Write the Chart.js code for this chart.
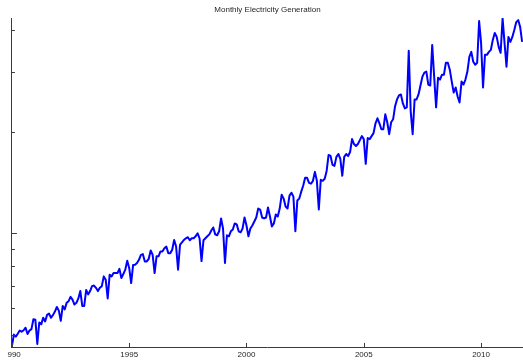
<!DOCTYPE html>
<html>
<head>
<meta charset="utf-8">
<script src="https://cdn.jsdelivr.net/npm/chart.js@4.4.1/dist/chart.umd.min.js"></script>
<style>
  html, body { margin: 0; padding: 0; background: #ffffff; }
  #wrap { width: 523px; height: 363px; }
</style>
</head>
<body>
<div id="wrap"><canvas id="chart" width="523" height="363"></canvas></div>
<script>
// Monthly electricity generation, January 1990 onwards (one value per month)
const startYear = 1990;
const generation = [
  463, 502, 495, 505, 516, 512, 517, 526, 504, 516, 521, 557,
  555, 471, 545, 538, 563, 549, 574, 579, 563, 573, 587, 606,
  591, 551, 610, 596, 623, 630, 649, 637, 616, 623, 642, 675,
  610, 610, 680, 660, 675, 698, 701, 690, 675, 690, 698, 746,
  729, 642, 754, 746, 763, 763, 763, 785, 738, 758, 781, 830,
  790, 713, 806, 808, 817, 835, 864, 868, 826, 826, 841, 890,
  864, 763, 855, 855, 884, 884, 904, 914, 874, 874, 894, 956,
  914, 781, 924, 941, 956, 967, 974, 954, 967, 967, 980, 1000,
  967, 828, 954, 967, 980, 993, 1020, 1041, 993, 987, 1014, 1107,
  1034, 817, 987, 980, 1014, 1027, 1070, 1063, 1014, 1007, 1034, 1114,
  1055, 980, 1034, 1055, 1084, 1114, 1184, 1176, 1114, 1107, 1114, 1192,
  1122, 1048, 1070, 1137, 1122, 1184, 1301, 1267, 1200, 1184, 1293, 1319,
  1284, 1014, 1250, 1267, 1328, 1383, 1460, 1460, 1411, 1402, 1430, 1520,
  1430, 1176, 1440, 1430, 1450, 1530, 1705, 1694, 1594, 1583, 1683, 1717,
  1660, 1480, 1683, 1717, 1694, 1740, 1900, 1837, 1812, 1837, 1887, 1939,
  1900, 1605, 1913, 1900, 1939, 1978, 2116, 2189, 2116, 2032, 2032, 2249,
  2131, 1965, 2131, 2174, 2374, 2489, 2557, 2574, 2422, 2342, 2358, 3465,
  2295, 1965, 2489, 2489, 2574, 2736, 2907, 2987, 3008, 2754, 2736, 3608,
  2907, 2358, 2887, 2849, 2946, 2946, 3195, 3195, 3048, 2811, 2609, 2699,
  2540, 2438, 2811, 2754, 2849, 3008, 3327, 3441, 3216, 3152, 3195, 4242,
  3657, 2699, 3372, 3372, 3441, 3488, 3732, 3913, 3809, 3560, 3418, 4320,
  3657, 3110, 3809, 3682, 3809, 3992, 4214, 4271, 4074, 3682
];
const yearTicks = [1990, 1995, 2000, 2005, 2010];
const logTicks = [500, 600, 700, 800, 900, 1000, 2000, 3000, 4000];
const majorLogTicks = [1000];

const points = generation.map((v, i) => ({ x: startYear + i / 12, y: v }));

const axisColor = '#3a3a3a';
const textColor = '#262626';
const fontFamily = "'Liberation Sans', Arial, Helvetica, sans-serif";

// Short tick marks drawn on the inside of both axes
const innerTicks = {
  id: 'innerTicks',
  afterDatasetsDraw(chart) {
    const { ctx, chartArea, scales } = chart;
    ctx.save();
    ctx.strokeStyle = axisColor;
    ctx.lineWidth = 1;
    ctx.beginPath();
    scales.x.ticks.forEach(t => {
      const px = Math.round(scales.x.getPixelForValue(t.value)) + 0.5;
      ctx.moveTo(px, chartArea.bottom);
      ctx.lineTo(px, chartArea.bottom - 4.5);
    });
    scales.y.ticks.forEach(t => {
      const py = Math.round(scales.y.getPixelForValue(t.value)) + 0.5;
      const len = majorLogTicks.includes(t.value) ? 5 : 3;
      ctx.moveTo(chartArea.left, py);
      ctx.lineTo(chartArea.left + len, py);
    });
    ctx.stroke();
    ctx.restore();
  }
};

// Left margin of the figure trims the first year label
const leftTrim = {
  id: 'leftTrim',
  beforeDraw(chart) {
    const { ctx, width, height } = chart;
    ctx.save();
    ctx.beginPath();
    ctx.rect(7, 0, width - 7, height);
    ctx.clip();
  },
  afterDraw(chart) {
    chart.ctx.restore();
  }
};

new Chart(document.getElementById('chart'), {
  type: 'line',
  data: {
    datasets: [{
      label: 'Generation',
      data: points,
      borderColor: '#0000ff',
      borderWidth: 2,
      pointRadius: 0,
      tension: 0,
      fill: false,
      borderJoinStyle: 'round'
    }]
  },
  options: {
    responsive: false,
    animation: false,
    devicePixelRatio: 1,
    layout: { padding: { left: 11, right: 0, top: 0, bottom: 0 } },
    plugins: {
      legend: { display: false },
      tooltip: { enabled: false },
      title: {
        display: true,
        text: 'Monthly Electricity Generation',
        color: textColor,
        font: { family: fontFamily, size: 8, weight: 'normal' },
        padding: { top: 4.5, bottom: 4 },
        fullSize: false
      }
    },
    scales: {
      x: {
        type: 'linear',
        min: 1990,
        max: 1990 + 512 / 23.5,
        grid: { display: false, drawTicks: false },
        border: { display: true, color: axisColor, width: 1 },
        afterBuildTicks: scale => { scale.ticks = yearTicks.map(v => ({ value: v })); },
        ticks: {
          color: textColor,
          font: { family: fontFamily, size: 8 },
          padding: 3,
          maxRotation: 0,
          autoSkip: false,
          callback: v => String(v)
        }
      },
      y: {
        type: 'logarithmic',
        min: 460,
        max: 4330,
        grid: { display: false, drawTicks: false },
        border: { display: true, color: axisColor, width: 1 },
        afterBuildTicks: scale => { scale.ticks = logTicks.map(v => ({ value: v })); },
        ticks: { display: false }
      }
    }
  },
  plugins: [innerTicks, leftTrim]
});
</script>
</body>
</html>
